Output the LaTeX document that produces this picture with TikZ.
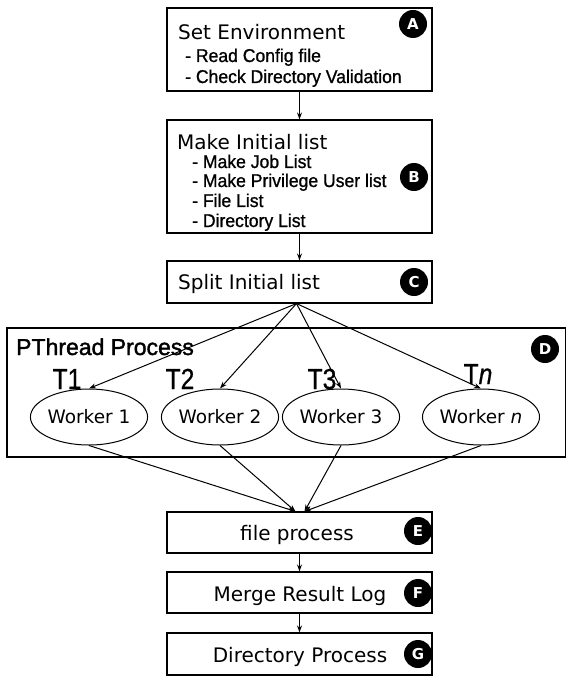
\documentclass[tikz,border=0pt]{standalone}
\usepackage{fontspec}
\setmainfont{DejaVu Sans}
\newfontfamily\itemfont{Liberation Sans}[FakeBold=1,FakeStretch=0.95]
\newfontfamily\tfont{Liberation Sans}[FakeStretch=0.85,FakeBold=0.6]
\newfontfamily\pfont{Liberation Sans}[FakeBold=1.5]
\usetikzlibrary{arrows.meta,shapes.geometric}
\begin{document}
\begin{tikzpicture}[x=1pt,y=-1pt,
  box/.style={draw,line width=1.1pt,minimum width=265pt,inner sep=0pt},
  title/.style={anchor=base west,inner sep=0pt,font=\fontsize{20}{24}\selectfont},
  ctitle/.style={anchor=base,inner sep=0pt,font=\fontsize{20}{24}\selectfont},
  item/.style={anchor=base west,inner sep=0pt,font=\itemfont\fontsize{18.5}{20}\selectfont},
  badge/.style={circle,fill=black,minimum size=28pt,inner sep=0pt,text=white,font=\bfseries\fontsize{15}{15}\selectfont},
  worker/.style={ellipse,draw,line width=1pt,minimum width=112pt,minimum height=56pt,inner sep=0pt,font=\fontsize{18.5}{20}\selectfont},
  tlab/.style={anchor=base,inner sep=0pt,font=\tfont\fontsize{29}{30}\selectfont},
  arr/.style={line width=1pt,-{Stealth[length=7pt,width=5pt]}}]
\useasboundingbox (0,0) rectangle (565,676);
% boxes
\node[box,minimum height=83pt] (A) at (299.5,49.5) {};
\node[box,minimum height=113pt] (B) at (299.5,176.5) {};
\node[box,minimum height=42pt] (C) at (299.5,282) {};
\node[draw,line width=1.1pt,minimum width=559pt,minimum height=129pt,inner sep=0pt] (D) at (286.5,392.5) {};
\node[box,minimum height=41pt] (E) at (299.5,532.5) {};
\node[box,minimum height=41pt] (F) at (299.5,592.5) {};
\node[box,minimum height=42pt] (G) at (299.5,654) {};
% texts
\node[title] (At) at (178,40) {Set Environment};
\node[item] (A1) at (185,62) {- Read Config file};
\node[item] (A2) at (185,83) {- Check Directory Validation};
\node[title] (Bt) at (177,150) {Make Initial list};
\node[item] (B1) at (192,168) {- Make Job List};
\node[item] (B2) at (192,187) {- Make Privilege User list};
\node[item] (B3) at (192,207) {- File List};
\node[item] (B4) at (192,227) {- Directory List};
\node[title] (Ct) at (178,289) {Split Initial list};
\node[anchor=base west,inner sep=0pt,font=\pfont\fontsize{23}{24}\selectfont] (Dt) at (16,355) {PThread Process};
\node[ctitle] (Et) at (297,540) {file process};
\node[ctitle] (Ft) at (300,601) {Merge Result Log};
\node[ctitle] (Gt) at (300,662) {Directory Process};
% badges
\node[badge] (bA) at (413,24) {A};
\node[badge] (bB) at (414,177) {B};
\node[badge] (bC) at (414,282) {C};
\node[badge] (bD) at (545,349) {D};
\node[badge] (bE) at (418,531) {E};
\node[badge] (bF) at (418,593) {F};
\node[badge] (bG) at (418,654) {G};
% workers
\node[worker] (w1) at (89,417) {Worker 1};
\node[worker] (w2) at (220,417) {Worker 2};
\node[worker] (w3) at (341,417) {Worker 3};
\node[worker] (wn) at (481,417) {Worker \textit{n}};
\node[tlab] (t1) at (67,389) {T1};
\node[tlab] (t2) at (180,389) {T2};
\node[tlab] (t3) at (322,389) {T3};
\node[tlab] (tn) at (478,384) {T\textit{n}};
% connectors
\coordinate (fan) at ([xshift=-3pt]C.south);
\coordinate (eL) at ([xshift=-4pt]E.north);
\coordinate (eR) at ([xshift=5pt]E.north);
\draw[arr] (A.south) -- (B.north);
\draw[arr] (B.south) -- (C.north);
\draw[arr] (fan) -- (w1.north);
\draw[arr] (fan) -- (w2.north);
\draw[arr] (fan) -- (w3.north);
\draw[arr] (fan) -- (wn.north);
\draw[arr] (w1.south) -- (eL);
\draw[arr] (w2.south) -- (eL);
\draw[arr] (w3.south) -- (eR);
\draw[arr] (wn.south) -- (eR);
\draw[arr] (E.south) -- (F.north);
\draw[arr] (F.south) -- (G.north);
\end{tikzpicture}
\end{document}
